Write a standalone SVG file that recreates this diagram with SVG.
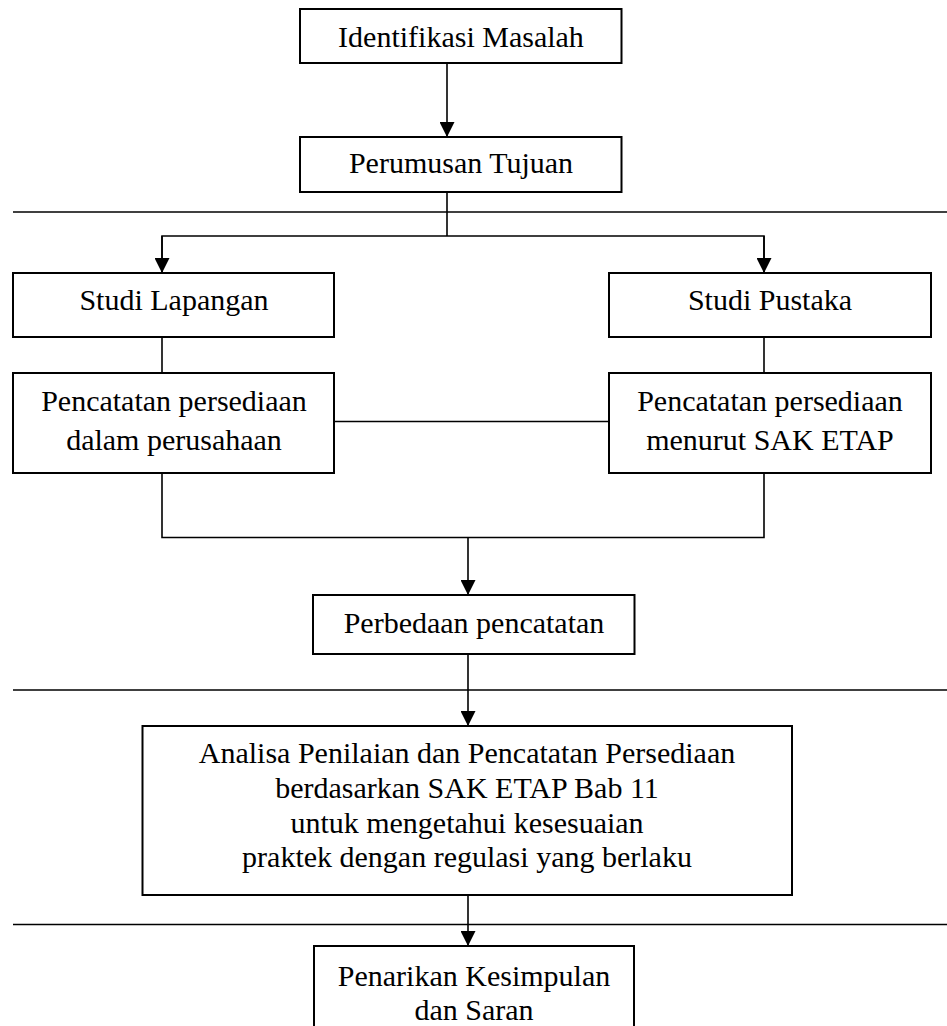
<svg xmlns="http://www.w3.org/2000/svg" width="947" height="1026" viewBox="0 0 947 1026">
<style>
.box{fill:#fff;stroke:#000;stroke-width:2}
.ln{fill:none;stroke:#000;stroke-width:1.6}
.sep{fill:none;stroke:#000;stroke-width:1.6}
text{font-family:"Liberation Serif","Times New Roman",serif;font-size:30px;fill:#000;text-anchor:middle}
</style>
<defs>
<marker id="arr" markerUnits="userSpaceOnUse" markerWidth="15" markerHeight="15" refX="15" refY="7.5" orient="auto">
<path d="M0,0 L15,7.5 L0,15 z" fill="#000"/>
</marker>
</defs>
<rect width="947" height="1026" fill="#fff"/>
<g id="separators">
<line class="sep" x1="13" y1="212" x2="947" y2="212"/>
<line class="sep" x1="13" y1="690" x2="947" y2="690"/>
<line class="sep" x1="13" y1="924.5" x2="947" y2="924.5"/>
</g>
<g id="connectors">
<line class="ln" x1="447" y1="63" x2="447" y2="137" marker-end="url(#arr)"/>
<polyline class="ln" points="447,192 447,236"/>
<polyline class="ln" points="162,273 162,236 764,236 764,273" />
<line class="ln" x1="162" y1="236" x2="162" y2="273" marker-end="url(#arr)"/>
<line class="ln" x1="764" y1="236" x2="764" y2="273" marker-end="url(#arr)"/>
<line class="ln" x1="162" y1="337" x2="162" y2="373"/>
<line class="ln" x1="764" y1="337" x2="764" y2="373"/>
<line class="ln" x1="334" y1="421.5" x2="609" y2="421.5"/>
<polyline class="ln" points="162,473 162,537.5 764,537.5 764,473"/>
<line class="ln" x1="468" y1="537.5" x2="468" y2="595" marker-end="url(#arr)"/>
<line class="ln" x1="468" y1="654" x2="468" y2="726" marker-end="url(#arr)"/>
<line class="ln" x1="468" y1="895" x2="468" y2="946" marker-end="url(#arr)"/>
</g>
<g id="identifikasi">
<rect class="box" x="300" y="9" width="321.5" height="54"/>
<text x="461" y="47">Identifikasi Masalah</text>
</g>
<g id="perumusan">
<rect class="box" x="300" y="137" width="321.5" height="55"/>
<text x="461" y="173">Perumusan Tujuan</text>
</g>
<g id="studi-lapangan">
<rect class="box" x="13" y="273" width="321" height="64"/>
<text x="174" y="310">Studi Lapangan</text>
</g>
<g id="studi-pustaka">
<rect class="box" x="609" y="273" width="322" height="64"/>
<text x="770" y="310">Studi Pustaka</text>
</g>
<g id="pencatatan-perusahaan">
<rect class="box" x="13" y="373" width="321" height="100"/>
<text x="174" y="410.5">Pencatatan persediaan</text>
<text x="174" y="450">dalam perusahaan</text>
</g>
<g id="pencatatan-sak">
<rect class="box" x="609" y="373" width="322" height="100"/>
<text x="770" y="410.5">Pencatatan persediaan</text>
<text x="770" y="450">menurut SAK ETAP</text>
</g>
<g id="perbedaan">
<rect class="box" x="313" y="595" width="321.5" height="59"/>
<text x="474" y="633">Perbedaan pencatatan</text>
</g>
<g id="analisa">
<rect class="box" x="142.5" y="726" width="649.5" height="169"/>
<text x="467" y="763">Analisa Penilaian dan Pencatatan Persediaan</text>
<text x="467" y="798">berdasarkan SAK ETAP Bab 11</text>
<text x="467" y="833">untuk mengetahui kesesuaian</text>
<text x="467" y="867">praktek dengan regulasi yang berlaku</text>
</g>
<g id="penarikan">
<rect class="box" x="314" y="946" width="320" height="100"/>
<text x="474" y="986">Penarikan Kesimpulan</text>
<text x="474" y="1020">dan Saran</text>
</g>
</svg>
